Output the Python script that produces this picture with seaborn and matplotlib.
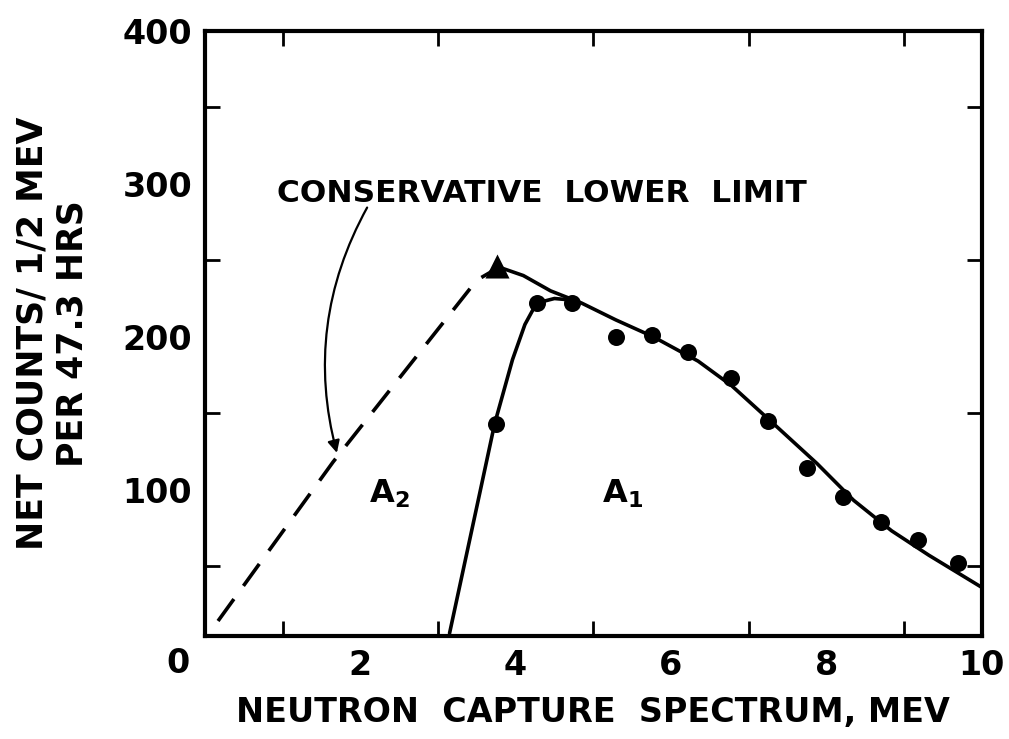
import numpy as np
import pandas as pd
import matplotlib
matplotlib.use("Agg")
import matplotlib.pyplot as plt
import seaborn as sns

# measured points (0.5 MeV bins)
pt_x = [3.75, 4.27, 4.72, 5.29, 5.75, 6.22, 6.77, 7.25, 7.75, 8.22, 8.70, 9.18, 9.69]
pt_y = [143, 222, 222, 200, 201, 190, 173, 145, 114, 95, 79, 67, 52]

# triangle (peak of conservative lower limit)
tri_x = [3.76]
tri_y = [246]

# solid fitted curve (upper)
fit_x = [3.76, 4.10, 4.45, 4.85, 5.29, 5.77, 6.35, 6.78, 7.30, 7.88, 8.35, 8.84, 9.32, 10.0]
fit_y = [246, 240, 230, 222, 211, 200, 184, 168, 144, 117, 93, 73, 57, 36]

# solid rising curve (A1 edge)
rise_x = [3.15, 3.54, 3.73, 3.96, 4.12, 4.27, 4.50, 4.72]
rise_y = [6, 98, 143, 185, 208, 222, 225, 224]

# dashed conservative lower limit
dash_x = [0.17, 1.65, 3.50, 3.67, 3.76]
dash_y = [14, 118, 237, 242, 246]

x_ticklabels = ["2", "4", "6", "8", "10"]
y_ticklabels = ["100", "200", "300", "400"]

sns.set_theme(style="ticks")
plt.rcParams['font.family'] = ['DejaVu Sans']
plt.rcParams['font.weight'] = 'bold'
plt.rcParams['text.color'] = 'black'
plt.rcParams['axes.labelcolor'] = 'black'
plt.rcParams['xtick.color'] = 'black'
plt.rcParams['ytick.color'] = 'black'

fig = plt.figure(figsize=(10.09, 7.39), dpi=100)
ax = fig.add_axes([0.203, 0.139, 0.770, 0.819])

df_pts = pd.DataFrame({"x": pt_x, "y": pt_y})
df_fit = pd.DataFrame({"x": fit_x, "y": fit_y})
df_rise = pd.DataFrame({"x": rise_x, "y": rise_y})
df_dash = pd.DataFrame({"x": dash_x, "y": dash_y})
df_tri = pd.DataFrame({"x": tri_x, "y": tri_y})

sns.lineplot(data=df_fit, x="x", y="y", ax=ax, color="black", lw=2.6, sort=False)
sns.lineplot(data=df_rise, x="x", y="y", ax=ax, color="black", lw=2.6, sort=False)
sns.lineplot(data=df_dash, x="x", y="y", ax=ax, color="black", lw=2.6, sort=False)
ax.lines[-1].set_dashes((7.5, 4.5))
sns.scatterplot(data=df_pts, x="x", y="y", ax=ax, color="black", s=150, edgecolor="black", linewidth=0, zorder=5)
sns.scatterplot(data=df_tri, x="x", y="y", ax=ax, color="black", marker="^", s=300, edgecolor="black", linewidth=0, zorder=5)

ax.set_xlim(0, 10)
ax.set_ylim(4, 400)
ax.set_xlabel("NEUTRON  CAPTURE  SPECTRUM, MEV", fontsize=24, fontweight="bold", labelpad=10, color="black")
ax.set_ylabel("NET COUNTS/ 1/2 MEV\nPER 47.3 HRS", fontsize=25, fontweight="bold", labelpad=24,
              linespacing=1.2, color="black")

ax.set_xticks(np.arange(1, 10, 1), minor=True)
ax.set_xticks([2, 4, 6, 8, 10])
ax.set_xticklabels(x_ticklabels, fontsize=24, fontweight="bold")
ax.set_yticks(np.arange(50, 400, 50), minor=True)
ax.set_yticks([100, 200, 300, 400])
ax.set_yticklabels(y_ticklabels, fontsize=24, fontweight="bold")

ax.tick_params(which="both", direction="in", top=True, right=True, width=2, color="black", labelcolor="black")
ax.tick_params(which="major", length=0, pad=9)
ax.tick_params(which="minor", length=11)
for s in ax.spines.values():
    s.set_linewidth(3)
    s.set_color("black")

ax.text(-0.034, -0.017, "0", transform=ax.transAxes, fontsize=24, fontweight="bold",
        ha="center", va="top", color="black")

ax.text(2.38, 97, "A$_2$", fontsize=23, fontweight="bold", ha="center", va="center", color="black")
ax.text(5.38, 97, "A$_1$", fontsize=23, fontweight="bold", ha="center", va="center", color="black")

ax.annotate("CONSERVATIVE  LOWER  LIMIT", xy=(1.70, 124), xytext=(0.93, 294),
            fontsize=22.5, fontweight="bold", ha="left", va="center", color="black",
            arrowprops=dict(arrowstyle="-|>", color="black", lw=1.6,
                            connectionstyle="arc3,rad=0.2", mutation_scale=18,
                            shrinkA=0, shrinkB=0,
                            patchA=None, relpos=(0.17, 0.0)))

fig.savefig("out.png", dpi=100)
